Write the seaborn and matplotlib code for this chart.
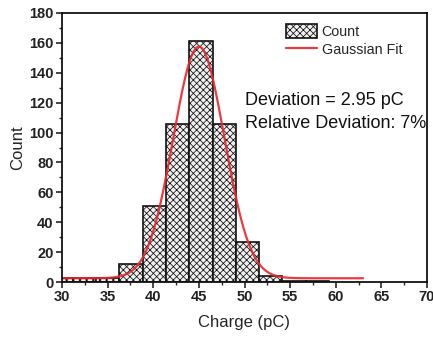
import numpy as np
import pandas as pd
import matplotlib
matplotlib.use("Agg")
import matplotlib.pyplot as plt
import seaborn as sns
from matplotlib.ticker import MultipleLocator

# --- data ---
bin_edges = [28.65, 31.2, 33.75, 36.3, 38.85, 41.4, 43.95, 46.5, 49.05, 51.6, 54.15, 56.7, 59.25]
counts = [3, 3, 3, 12, 51, 106, 161, 106, 27, 4, 1, 1]
# Gaussian fit parameters
fit_center = 45.0
fit_sigma = 2.8
fit_amplitude = 155.0
fit_offset = 2.5
fit_range = [30.0, 63.0]
x_ticks = [30, 35, 40, 45, 50, 55, 60, 65, 70]
y_ticks = [0, 20, 40, 60, 80, 100, 120, 140, 160, 180]
annotation_lines = ["Deviation = 2.95 pC", "Relative Deviation: 7%"]

sns.set_style("white")
plt.rcParams['font.family'] = ['Liberation Sans', 'DejaVu Sans']
plt.rcParams['hatch.color'] = '#808080'
plt.rcParams['hatch.linewidth'] = 0.55

fig = plt.figure(figsize=(4.33, 3.37), dpi=100)
ax = fig.add_axes([62/433, 1 - 282/337, (427-62)/433, (282-13)/337])

centers = [(a + b) / 2 for a, b in zip(bin_edges[:-1], bin_edges[1:])]
df = pd.DataFrame({"charge": centers, "count": counts})
sns.histplot(data=df, x="charge", weights="count", bins=bin_edges, ax=ax,
             color="#f0f0f0", alpha=1.0, edgecolor="#111111", linewidth=1.2,
             label="Count")
for p in ax.patches:
    p.set_hatch("xxxxx")

xs = np.linspace(fit_range[0], fit_range[1], 400)
ys = fit_offset + fit_amplitude * np.exp(-(xs - fit_center) ** 2 / (2 * fit_sigma ** 2))
sns.lineplot(x=xs, y=ys, ax=ax, color="#e8262c", linewidth=1.6, alpha=0.9,
             label="Gaussian Fit")

ax.set_xlim(30, 70)
ax.set_ylim(0, 180)
ax.set_xticks(x_ticks)
ax.set_yticks(y_ticks)
ax.xaxis.set_minor_locator(MultipleLocator(2.5))
ax.yaxis.set_minor_locator(MultipleLocator(10))
ax.tick_params(axis='both', which='major', direction='out', length=4, width=1.2,
               labelsize=10.5, top=False, right=False, bottom=True, left=True, pad=2)
ax.tick_params(axis='both', which='minor', direction='out', length=2.5, width=1.0,
               top=False, right=False, bottom=True, left=True)
for lab in ax.get_xticklabels() + ax.get_yticklabels():
    lab.set_fontweight('bold')
    lab.set_color('#222222')
for s in ax.spines.values():
    s.set_linewidth(1.3)
    s.set_color('#111111')

ax.set_xlabel("Charge (pC)", fontsize=12, labelpad=8)
ax.set_ylabel("Count", fontsize=12, labelpad=3)

ax.text(0.502, 0.675, annotation_lines[0], transform=ax.transAxes, fontsize=13,
        va='center', ha='left', color='#111111')
ax.text(0.502, 0.59, annotation_lines[1], transform=ax.transAxes, fontsize=13,
        va='center', ha='left', color='#111111')

handles, labels = ax.get_legend_handles_labels()
order = [labels.index("Count"), labels.index("Gaussian Fit")]
ax.legend([handles[i] for i in order], [labels[i] for i in order],
          loc='upper left', bbox_to_anchor=(0.59, 0.99), frameon=False,
          fontsize=10.3, handlelength=2.2, handleheight=1.1, handletextpad=0.3,
          labelspacing=0.25, borderaxespad=0.2)

fig.savefig("out.png", dpi=100)
